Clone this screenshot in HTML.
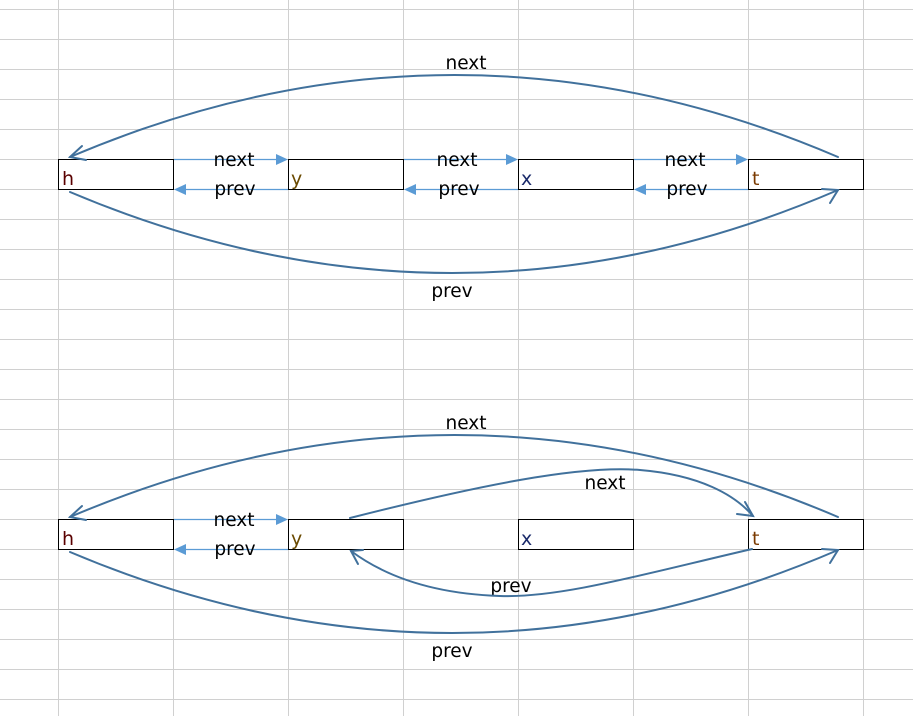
<!DOCTYPE html>
<html><head><meta charset="utf-8"><style>
html,body{margin:0;padding:0;background:#fff;}
svg{display:block;}
text{font-family:"DejaVu Sans","Liberation Sans",sans-serif;}
</style></head><body>
<svg width="913" height="716" viewBox="0 0 913 716" xmlns="http://www.w3.org/2000/svg">
<g stroke="#d0d0d0" stroke-width="1" fill="none">
<path d="M58.5 0V716M173.5 0V716M288.5 0V716M403.5 0V716M518.5 0V716M633.5 0V716M748.5 0V716M863.5 0V716"/>
<path d="M0 9.5H913M0 39.5H913M0 69.5H913M0 99.5H913M0 129.5H913M0 159.5H913M0 189.5H913M0 219.5H913M0 249.5H913M0 279.5H913M0 309.5H913M0 339.5H913M0 369.5H913M0 399.5H913M0 429.5H913M0 459.5H913M0 489.5H913M0 519.5H913M0 549.5H913M0 579.5H913M0 609.5H913M0 639.5H913M0 669.5H913M0 699.5H913"/>
</g>
<g stroke="#000" stroke-width="1" fill="#fff">
<rect x="58.5" y="159.5" width="115" height="30"/>
<rect x="288.5" y="159.5" width="115" height="30"/>
<rect x="518.5" y="159.5" width="115" height="30"/>
<rect x="748.5" y="159.5" width="115" height="30"/>
<rect x="58.5" y="519.5" width="115" height="30"/>
<rect x="288.5" y="519.5" width="115" height="30"/>
<rect x="518.5" y="519.5" width="115" height="30"/>
<rect x="748.5" y="519.5" width="115" height="30"/>
</g>
<g font-size="19">
<text x="62" y="185" fill="#5a0000">h</text>
<text x="291" y="185" fill="#6a4a00">y</text>
<text x="521" y="185" fill="#1a2a6a">x</text>
<text x="752" y="185" fill="#7a3a00">t</text>
<text x="62" y="545" fill="#5a0000">h</text>
<text x="291" y="545" fill="#6a4a00">y</text>
<text x="521" y="545" fill="#1a2a6a">x</text>
<text x="752" y="545" fill="#7a3a00">t</text>
</g>
<g stroke="#5b9bd5" stroke-width="1.2" fill="none">
<path d="M174 159.5H278M404 159.5H508M634 159.5H738"/>
<path d="M186 189.5H288M416 189.5H518M646 189.5H748"/>
<path d="M174 519.5H278M186 549.5H288"/>
</g>
<g fill="#5b9bd5">
<path d="M288 159.5L276 154V165Z"/><path d="M518 159.5L506 154V165Z"/><path d="M748 159.5L736 154V165Z"/>
<path d="M174 189.5L186 184V195Z"/><path d="M404 189.5L416 184V195Z"/><path d="M634 189.5L646 184V195Z"/>
<path d="M288 519.5L276 514V525Z"/><path d="M174 549.5L186 544V555Z"/>
</g>
<g font-size="18.5" fill="#000" text-anchor="middle">
<text x="234" y="166">next</text><text x="235" y="195">prev</text>
<text x="457" y="166">next</text><text x="459" y="195">prev</text>
<text x="685" y="166">next</text><text x="687" y="195">prev</text>
<text x="466" y="69">next</text><text x="452" y="297">prev</text>
<text x="234" y="526">next</text><text x="235" y="555">prev</text>
<text x="466" y="429">next</text><text x="452" y="657">prev</text>
<text x="605" y="489">next</text><text x="511" y="592">prev</text>
</g>
<g stroke="#41719c" stroke-width="2" fill="none" stroke-linecap="round">
<path d="M838 157Q455 -7 70 157"/>
<path d="M82 146L70 157L86 160"/>
<path d="M70 192Q455 355 838 190"/>
<path d="M822 189L838 190L830 203"/>
<path d="M838 517Q455 353 70 517"/>
<path d="M82 506L70 517L86 520"/>
<path d="M70 552Q455 715 838 550"/>
<path d="M822 549L838 550L830 563"/>
<path d="M350 518C480 485 580 465 640 470C700 475 735 495 753 516"/>
<path d="M745 502L753 516L737 514"/>
<path d="M752 549C640 575 560 598 500 596C440 594 390 580 351 551"/>
<path d="M363 550L351 551L358 564"/>
</g>
</svg>
</body></html>
